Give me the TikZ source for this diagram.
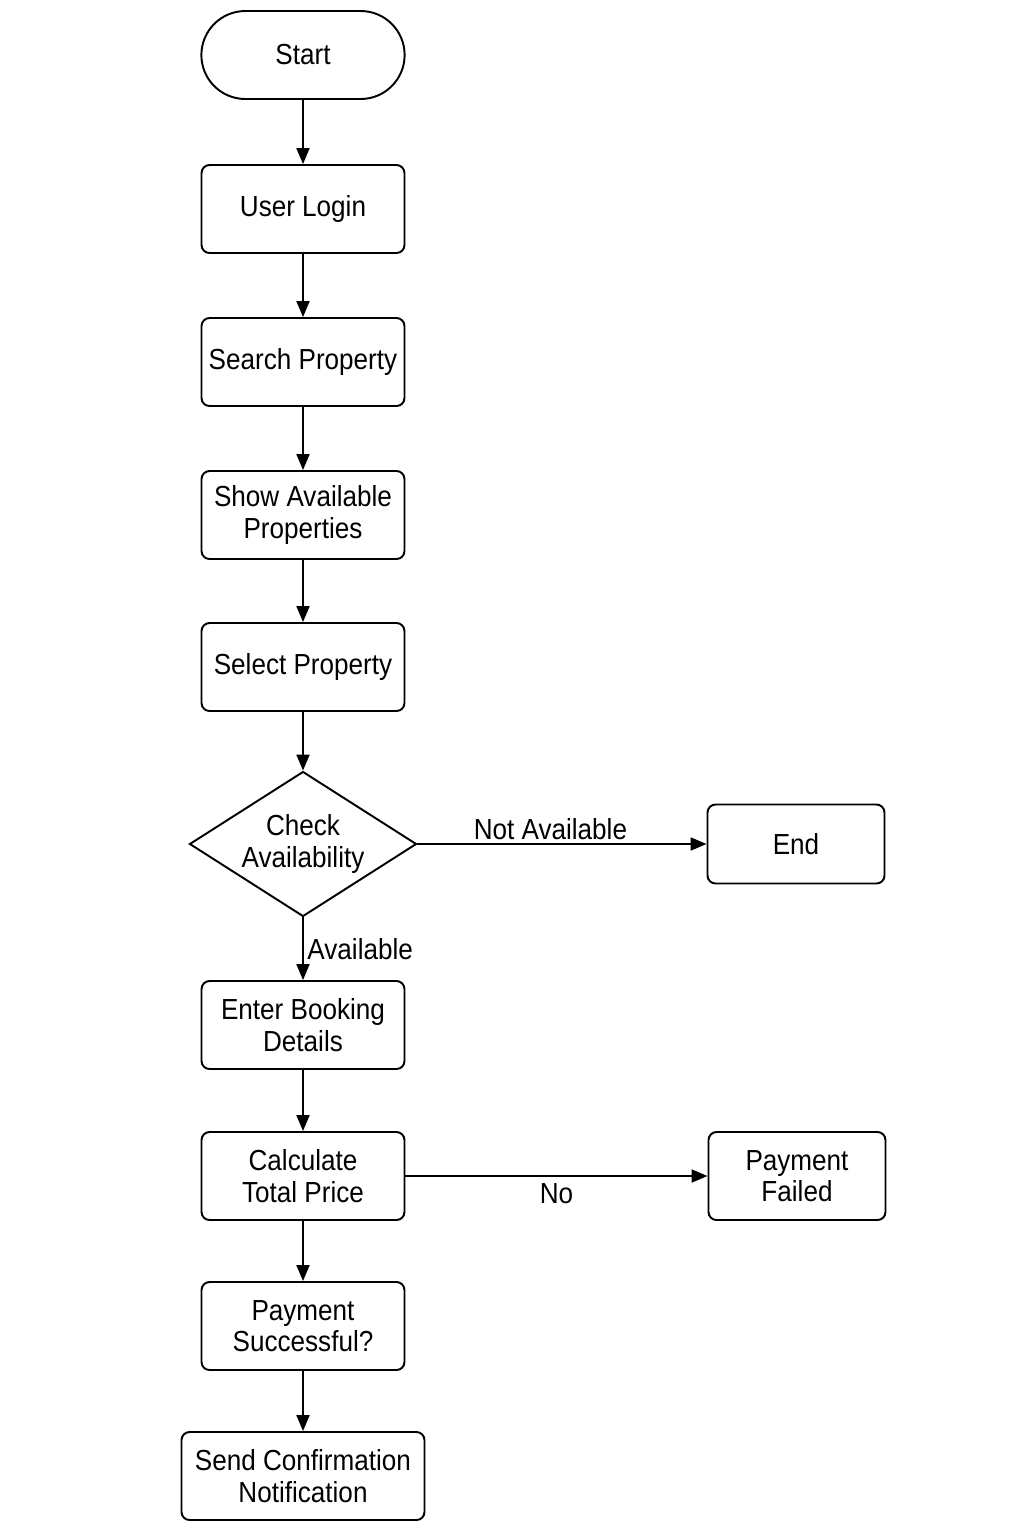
\documentclass[tikz,border=0pt]{standalone}
\usepackage{fontspec}
\setmainfont{Liberation Sans}[FakeStretch=0.9]
\usetikzlibrary{shapes.geometric,shapes.misc,arrows.meta,positioning}

\begin{document}
\begin{tikzpicture}[x=0.02cm, y=-0.02cm,
  line width=1.1pt,
  every node/.style={font=\fontsize{16.5pt}{17.8pt}\selectfont, align=center},
  stepbox/.style={draw, rounded corners=0.16cm, minimum width=4.06cm, minimum height=1.76cm, inner sep=2pt},
  endbox/.style={stepbox, minimum width=3.54cm},
  termbox/.style={draw, rounded rectangle, minimum width=4.3cm, minimum height=1.76cm},
  decbox/.style={draw, diamond, shape aspect=1.57, inner sep=0pt, minimum width=4.54cm, minimum height=2.9cm},
  flow/.style={-{Triangle[length=0.32cm,width=0.26cm]}}]
\useasboundingbox (0,0) rectangle (1024,1536);

\node[termbox] (start) at (303,55) {Start};
\node[stepbox] (login) at (303,209) {User Login};
\node[stepbox] (search) at (303,362) {Search Property};
\node[stepbox] (show) at (303,515) {Show Available\\Properties};
\node[stepbox] (select) at (303,667) {Select Property};
\node[decbox] (check) at (303,844) {Check\\Availability};
\node[endbox, minimum height=1.58cm] (end) at (796,844) {End};
\node[stepbox] (enter) at (303,1025) {Enter Booking\\Details};
\node[stepbox] (calc) at (303,1176) {Calculate\\Total Price};
\node[endbox] (failed) at (797,1176) {Payment\\Failed};
\node[stepbox] (paid) at (303,1326) {Payment\\Successful?};
\node[stepbox, minimum width=4.86cm] (notify) at (303,1476) {Send Confirmation\\Notification};

\draw[flow] (start) -- (login);
\draw[flow] (login) -- (search);
\draw[flow] (search) -- (show);
\draw[flow] (show) -- (select);
\draw[flow] (select) -- (check);
\draw[flow] (check) -- node[pos=0.46, above, inner sep=2pt] {Not Available} (end);
\draw[flow] (check) -- node[right, inner sep=2pt] {Available} (enter);
\draw[flow] (enter) -- (calc);
\draw[flow] (calc) -- node[below, inner sep=4pt] {No} (failed);
\draw[flow] (calc) -- (paid);
\draw[flow] (paid) -- (notify);
\end{tikzpicture}
\end{document}
